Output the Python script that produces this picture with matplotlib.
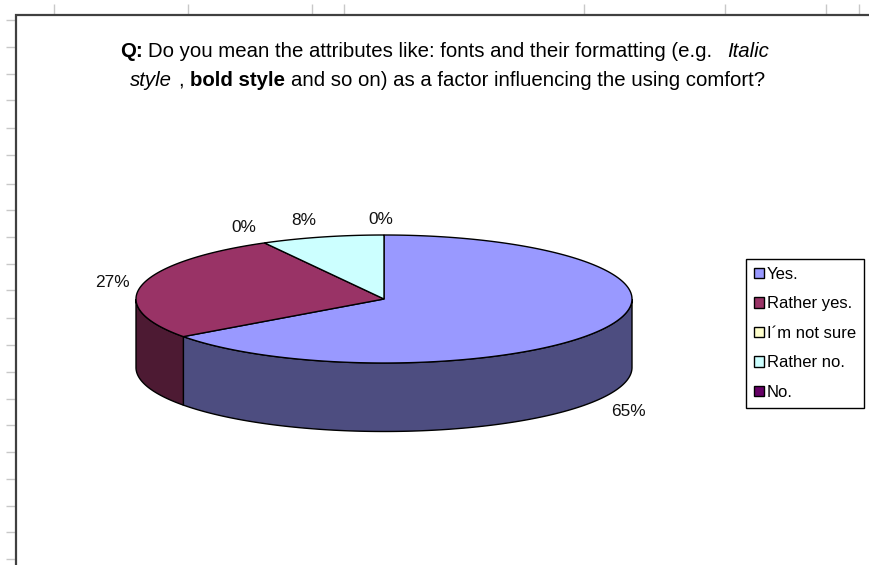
import numpy as np
import matplotlib
matplotlib.use('Agg')
import matplotlib.pyplot as plt
from matplotlib.patches import Polygon, Patch

plt.rcParams['font.family'] = ['Liberation Sans', 'DejaVu Sans']

categories = ["Yes.", "Rather yes.", "I´m not sure", "Rather no.", "No."]
values = [65, 27, 0, 8, 0]
top_colors = ["#9999FF", "#993366", "#FFFFCC", "#CCFFFF", "#660066"]
side_colors = ["#4D4D80", "#4D1A33", "#808066", "#668080", "#330033"]

title_lines = [
    [("Q:", "bold", "normal"), ("Do you mean the attributes like: fonts and their formatting (e.g.", "normal", "normal"), ("Italic", "normal", "italic")],
    [("style", "normal", "italic"), (",", "normal", "normal"), ("bold style", "bold", "normal"), ("and so on) as a factor influencing the using comfort?", "normal", "normal")],
]

top_ticks = [54, 188, 312, 344, 584, 725, 826, 859]
left_ticks = [20, 47, 74, 100, 128, 155, 184, 210, 237, 264, 290, 318, 345, 372, 399, 425, 452, 479, 506, 532, 559]

# pie geometry in pixels
cx, cy = 384, 299
rx, ry = 248, 64
depth = 68.5
# where each percent label sits relative to the rim point of its slice
label_offsets = [(23, 15), (-30, -3), (-21, -15), (-19, -17), (-3, -16)]


def rim(t):
    return cx + rx * np.sin(t), cy - ry * np.cos(t)


fig = plt.figure(figsize=(8.7, 5.65), dpi=100)
ax = fig.add_axes([0, 0, 1, 1])
ax.set_xlim(0, 870)
ax.set_ylim(565, 0)
ax.axis('off')

# sheet rulers behind the chart
ax.vlines(top_ticks, 4, 14, color="#c8c8c8", lw=1)
ax.hlines(left_ticks, 6, 16, color="#c8c8c8", lw=1)
ax.plot([870, 16.5, 16.5], [14.5, 14.5, 565], color="#404040", lw=1.6, solid_joinstyle='miter')

edges = np.radians(np.cumsum([0] + values) * 3.6)

# side walls, only the front half is visible
for i in range(len(values)):
    a = max(edges[i], np.pi / 2)
    b = min(edges[i + 1], np.pi * 1.5)
    if b <= a:
        continue
    t = np.linspace(a, b, 120)
    x, y = rim(t)
    pts = np.vstack([np.c_[x, y], np.c_[x[::-1], y[::-1] + depth]])
    ax.add_patch(Polygon(pts, closed=True, fc=side_colors[i], ec="black", lw=1, zorder=2))

# top faces
for i in range(len(values)):
    if values[i] == 0:
        continue
    t = np.linspace(edges[i], edges[i + 1], 200)
    x, y = rim(t)
    pts = np.vstack([[cx, cy], np.c_[x, y]])
    ax.add_patch(Polygon(pts, closed=True, fc=top_colors[i], ec="black", lw=1, zorder=3))

# percent labels
for i, v in enumerate(values):
    mid = (edges[i] + edges[i + 1]) / 2
    x, y = rim(mid)
    if np.pi / 2 < mid < np.pi * 1.5:
        y += depth
    dx, dy = label_offsets[i]
    ax.text(x + dx, y + dy, f"{v}%", fontsize=12.4, ha='center', va='center', color="#111111", zorder=5)

# title with mixed styles, pieces laid out one after the other
fs = 14.7
renderer = fig.canvas.get_renderer()
space = 0.278 * fs * 100 / 72
gaps = [[0.9, 2.6, 0], [1.1, 1.1, 1.0, 0]]
for line, start, base, gap in zip(title_lines, [120, 130], [57, 86], gaps):
    x = start
    for (txt, weight, style), g in zip(line, gap):
        t = ax.text(x, base, txt, fontsize=fs, fontweight=weight, fontstyle=style, ha='left', va='baseline', color="black")
        x = t.get_window_extent(renderer).x1 + space * g

handles = [Patch(fc=c, ec="black", lw=1) for c in top_colors]
leg = ax.legend(handles, categories, loc='upper left', bbox_to_anchor=(746, 259), bbox_transform=ax.transData,
                fontsize=12, frameon=True, fancybox=False, framealpha=1, edgecolor="black",
                borderpad=0.46, labelspacing=0.875, handlelength=0.6, handleheight=0.6,
                handletextpad=0.2, borderaxespad=0)
leg.get_frame().set_linewidth(1)

fig.savefig("out.png", dpi=100)
